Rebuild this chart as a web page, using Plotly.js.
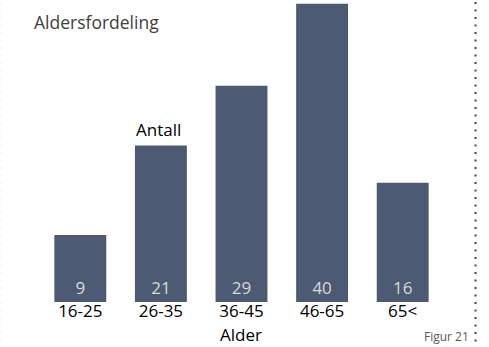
<!DOCTYPE html>
<html>
<head>
<meta charset="utf-8">
<script src="https://cdn.plot.ly/plotly-3.0.1.min.js"></script>
<style>html,body{margin:0;padding:0;background:#fff;}#chart{width:489px;height:347px;}</style>
</head>
<body>
<div id="chart"></div>
<script>
const categories = ["16-25", "26-35", "36-45", "46-65", "65<"];
const values = [9, 21, 29, 40, 16];
const chartTitle = "Aldersfordeling";
const xTitle = "Alder";
const yTitle = "Antall";
const figLabel = "Figur 21";

const W = 489, H = 347;
const mL = 39.6, mR = 45.6, mT = 0, mB = 45;
const plotW = W - mL - mR, plotH = H - mT - mB;
const px2x = px => (px - mL) / plotW;
const py2y = py => (H - mB - py) / plotH;

const FONT = "Open Sans, sans-serif";

const trace = {
  type: "bar",
  x: categories,
  y: values,
  text: values.map(String),
  textposition: "inside",
  insidetextanchor: "start",
  textangle: 0,
  textfont: {family: FONT, size: 17, color: "#d9d9d9"},
  marker: {color: "#4d5a73"},
  hoverinfo: "none",
  cliponaxis: false
};

const layout = {
  width: W, height: H,
  margin: {l: mL, r: mR, t: mT, b: mB, pad: 0},
  paper_bgcolor: "#ffffff",
  plot_bgcolor: "#ffffff",
  showlegend: false,
  bargap: 0.356,
  font: {family: FONT, color: "#000000"},
  title: {
    text: chartTitle,
    font: {family: FONT, size: 17.5, color: "#404040"},
    xref: "container", yref: "container",
    x: 34 / W, xanchor: "left",
    y: 1 - 22.5 / H, yanchor: "middle"
  },
  xaxis: {
    type: "category",
    range: [-0.5, 4.5],
    showgrid: false, zeroline: false, showline: false,
    ticks: "", ticklen: 0,
    tickfont: {family: FONT, size: 17, color: "#000000"},
    ticklabelstandoff: -3,
    fixedrange: true
  },
  yaxis: {
    range: [0, 40.5],
    visible: false,
    showgrid: false, zeroline: false,
    fixedrange: true
  },
  annotations: [
    {text: yTitle, xref: "paper", yref: "paper", x: px2x(158), y: py2y(129),
     xanchor: "center", yanchor: "middle", showarrow: false,
     font: {family: FONT, size: 17, color: "#000000"}},
    {text: xTitle, xref: "paper", yref: "paper", x: px2x(241), y: py2y(334),
     xanchor: "center", yanchor: "middle", showarrow: false,
     font: {family: FONT, size: 17, color: "#000000"}},
    {text: figLabel, xref: "paper", yref: "paper", x: px2x(471), y: py2y(347),
     xanchor: "right", yanchor: "bottom", showarrow: false,
     font: {family: FONT, size: 12, color: "#595959"}}
  ],
  shapes: [
    {type: "line", xref: "paper", yref: "paper",
     x0: px2x(476), x1: px2x(476), y0: py2y(H + 2), y1: py2y(-2),
     line: {color: "#404040", width: 2, dash: "2px,5.5px"}},
    {type: "line", xref: "paper", yref: "paper",
     x0: px2x(0.5), x1: px2x(0.5), y0: py2y(H + 2), y1: py2y(-2),
     line: {color: "#f0f0f0", width: 1, dash: "2px,5.5px"}}
  ]
};

Plotly.newPlot("chart", [trace], layout, {displayModeBar: false, staticPlot: true});
</script>
</body>
</html>
